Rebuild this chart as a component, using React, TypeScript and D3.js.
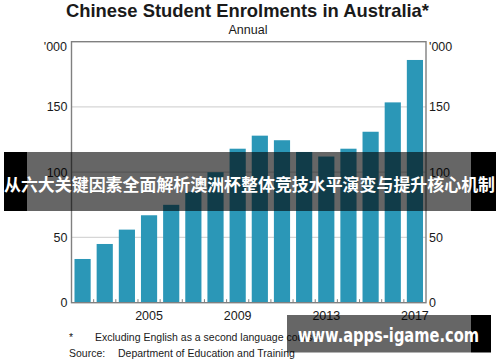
import React from "react";
import * as d3 from "d3";

const years = [2002, 2003, 2004, 2005, 2006, 2007, 2008, 2009, 2010, 2011, 2012, 2013, 2014, 2015, 2016, 2017];
const enrolments = [33.5, 45, 56, 67, 75, 85, 100, 118, 128, 124.5, 115.5, 112, 118, 131, 153.5, 186];
const yTicks = [0, 50, 100, 150];
const xLabelYears = [2005, 2009, 2013, 2017];
const title = "Chinese Student Enrolments in Australia*";
const subtitle = "Annual";
const unitLabel = "'000";
const footnote = "Excluding English as a second language courses";
const source = "Department of Education and Training";
const banner = "从六大关键因素全面解析澳洲杯整体竞技水平演变与提升核心机制";
const watermark = "www.apps-igame.com";

const W = 500, H = 362;
const L = 71.5, R = 426, T = 41.7, B = 302.7;
const BAR = "#2b97b7";
const FONT = "Liberation Sans, Arial, sans-serif";

export default function App() {
  const x = d3.scaleBand<number>().domain(years).range([L, R]).paddingInner(0.27).paddingOuter(0.135);
  const y = d3.scaleLinear().domain([0, 200]).range([B, T]);
  const step = x.step();
  const boundaries = years.slice(1).map((yr) => (x(yr) as number) - (step * 0.27) / 2);

  return (
    <svg width={W} height={H} style={{ position: "absolute", left: 0, top: 0, background: "#fff" }} fontFamily={FONT}>
      <rect x={0} y={0} width={W} height={H} fill="#fff" />
      <text x={247.5} y={17} textAnchor="middle" fontSize={17.8} fontWeight="bold" fill="#1a1a1a"
        textLength={363} lengthAdjust="spacingAndGlyphs">{title}</text>
      <text x={248} y={34} textAnchor="middle" fontSize={12.5} fill="#1a1a1a">{subtitle}</text>

      {yTicks.filter((t) => t > 0).map((t) => (
        <line key={t} x1={L} x2={R} y1={y(t)} y2={y(t)} stroke="#d6d6d6" strokeWidth={1.2} />
      ))}

      {years.map((yr, i) => (
        <rect key={yr} x={x(yr)} y={y(enrolments[i])} width={x.bandwidth()} height={B - y(enrolments[i])} fill={BAR} />
      ))}

      {boundaries.map((bx, i) => (
        <line key={i} x1={bx} x2={bx} y1={B} y2={B - 3.5} stroke="#7f7f7f" strokeWidth={1} />
      ))}

      <rect x={L} y={T} width={R - L} height={B - T} fill="none" stroke="#808080" strokeWidth={1.4} />

      {yTicks.map((t) => (
        <g key={t}>
          <text x={67.5} y={y(t) + 4.5} textAnchor="end" fontSize={12.5} fill="#1a1a1a">{t}</text>
          <text x={429} y={y(t) + 4.5} textAnchor="start" fontSize={12.5} fill="#1a1a1a">{t}</text>
        </g>
      ))}
      <text x={67} y={51} textAnchor="end" fontSize={12.5} fill="#1a1a1a">{unitLabel}</text>
      <text x={429} y={51} textAnchor="start" fontSize={12.5} fill="#1a1a1a">{unitLabel}</text>

      {xLabelYears.map((yr) => (
        <text key={yr} x={(x(yr) as number) + x.bandwidth() / 2} y={320} textAnchor="middle" fontSize={12.5} fill="#1a1a1a">{yr}</text>
      ))}

      <text x={69} y={341} fontSize={10.5} fill="#1a1a1a">*</text>
      <text x={95} y={341} fontSize={10.5} fill="#1a1a1a">{footnote}</text>
      <text x={69} y={357} fontSize={10.5} fill="#1a1a1a">Source:</text>
      <text x={118} y={357} fontSize={10.5} fill="#1a1a1a">{source}</text>

      <rect x={4} y={152} width={23} height={59} fill="#000" />
      <rect x={27} y={152} width={444} height={59} fill="rgba(0,0,0,0.6)" />
      <rect x={471} y={152} width={25} height={59} fill="#000" />
      <text x={249.5} y={190.5} textAnchor="middle" fontSize={17} fontWeight="bold" fill="#fff"
        fontFamily="Noto Sans CJK SC, sans-serif" textLength={491} lengthAdjust="spacingAndGlyphs">{banner}</text>

      <rect x={287} y={315} width={184} height={37.5} fill="rgba(0,0,0,0.6)" />
      <rect x={471} y={315} width={20} height={37.5} fill="#000" />
      <text x={298} y={342} fontSize={20} fontWeight="bold" fill="#fff" fontFamily="DejaVu Sans, sans-serif"
        textLength={181} lengthAdjust="spacingAndGlyphs">{watermark}</text>
    </svg>
  );
}
